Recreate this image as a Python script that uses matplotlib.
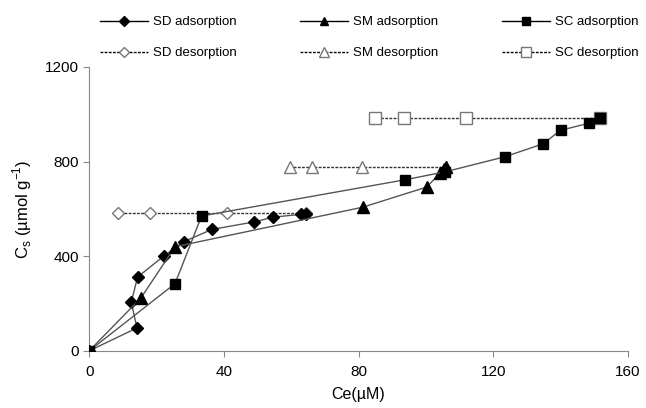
import matplotlib
matplotlib.use("Agg")
import matplotlib.pyplot as plt
from matplotlib.lines import Line2D

plt.rcParams["font.family"] = ["Liberation Sans", "DejaVu Sans"]

# adsorption isotherms
sd_ads_x = [0, 14.2, 12.5, 14.4, 22.1, 28.2, 36.4, 49.0, 54.7, 62.8, 64.4]
sd_ads_y = [0, 97, 206, 312, 400, 462, 513, 545, 565, 577, 580]
sm_ads_x = [0, 15.4, 25.5, 81.2, 100.2, 104.3, 105.5, 106.0]
sm_ads_y = [0, 224, 440, 607, 692, 752, 768, 778]
sc_ads_x = [0, 25.5, 33.4, 93.8, 105.8, 123.4, 134.8, 140.0, 148.4, 151.6]
sc_ads_y = [0, 284, 570, 723, 757, 820, 875, 932, 962, 982]

# desorption (starting from the last adsorption point)
sd_des_x = [64.4, 40.9, 18.1, 8.7]
sd_des_y = [582, 582, 582, 582]
sm_des_x = [106.0, 80.9, 66.1, 59.6]
sm_des_y = [775, 775, 775, 775]
sc_des_x = [151.6, 112.0, 93.6, 84.9]
sc_des_y = [982, 982, 982, 982]

fig = plt.figure(figsize=(6.46, 4.08), dpi=100)
ax = fig.add_axes([0.138, 0.14, 0.834, 0.696])

line_c = "#555555"
dot = (0, (2, 1))

ax.plot(sd_des_x, sd_des_y, linestyle=dot, color="#333333", lw=1,
        marker="D", ms=6, mfc="white", mec="#777777", mew=1, zorder=2)
ax.plot(sm_des_x, sm_des_y, linestyle=dot, color="#333333", lw=1,
        marker="^", ms=8, mfc="white", mec="#777777", mew=1, zorder=2)
ax.plot(sc_des_x, sc_des_y, linestyle=dot, color="#333333", lw=1,
        marker="s", ms=8, mfc="white", mec="#777777", mew=1, zorder=2)

ax.plot(sd_ads_x, sd_ads_y, color=line_c, lw=1, marker="D", ms=6.5,
        mfc="black", mec="black", zorder=3)
ax.plot(sm_ads_x, sm_ads_y, color=line_c, lw=1, marker="^", ms=8,
        mfc="black", mec="black", zorder=3)
ax.plot(sc_ads_x, sc_ads_y, color=line_c, lw=1, marker="s", ms=7,
        mfc="black", mec="black", zorder=3)

ax.set_xlim(0, 160)
ax.set_ylim(0, 1200)
ax.set_xticks([0, 40, 80, 120, 160])
ax.set_yticks([0, 400, 800, 1200])

for s in ["top", "right"]:
    ax.spines[s].set_visible(False)
for s in ["left", "bottom"]:
    ax.spines[s].set_color("#888888")
ax.tick_params(colors="#888888", labelcolor="black", labelsize=11,
               length=4, direction="out")
ax.tick_params(axis="x", pad=6)

ax.set_xlabel("Ce(\u00b5M)", fontsize=11.5, labelpad=6)
ax.set_ylabel("C$_\\mathregular{s}$ (\u00b5mol g$^\\mathregular{-1}$)",
              fontsize=12, labelpad=8)

def h(mk, ms, face, ls, edge):
    return Line2D([], [], color="black", lw=1, linestyle=ls, marker=mk,
                  ms=ms, mfc=face, mec=edge)

handles = [
    h("D", 5, "black", "-", "black"),
    h("D", 5, "white", dot, "#777777"),
    h("^", 6, "black", "-", "black"),
    h("^", 7, "white", dot, "#777777"),
    h("s", 6, "black", "-", "black"),
    h("s", 7, "white", dot, "#777777"),
]
labels = ["SD adsorption", "SD desorption", "SM adsorption",
          "SM desorption", "SC adsorption", "SC desorption"]
fig.legend(handles, labels, ncol=3, loc="upper left",
           bbox_to_anchor=(100 / 646, 1 - 16 / 408), frameon=False,
           fontsize=9.5, borderpad=0, borderaxespad=0,
           handlelength=3.64, columnspacing=4.8, handletextpad=0.38,
           labelspacing=1.42)

fig.savefig("out.png", dpi=100)
